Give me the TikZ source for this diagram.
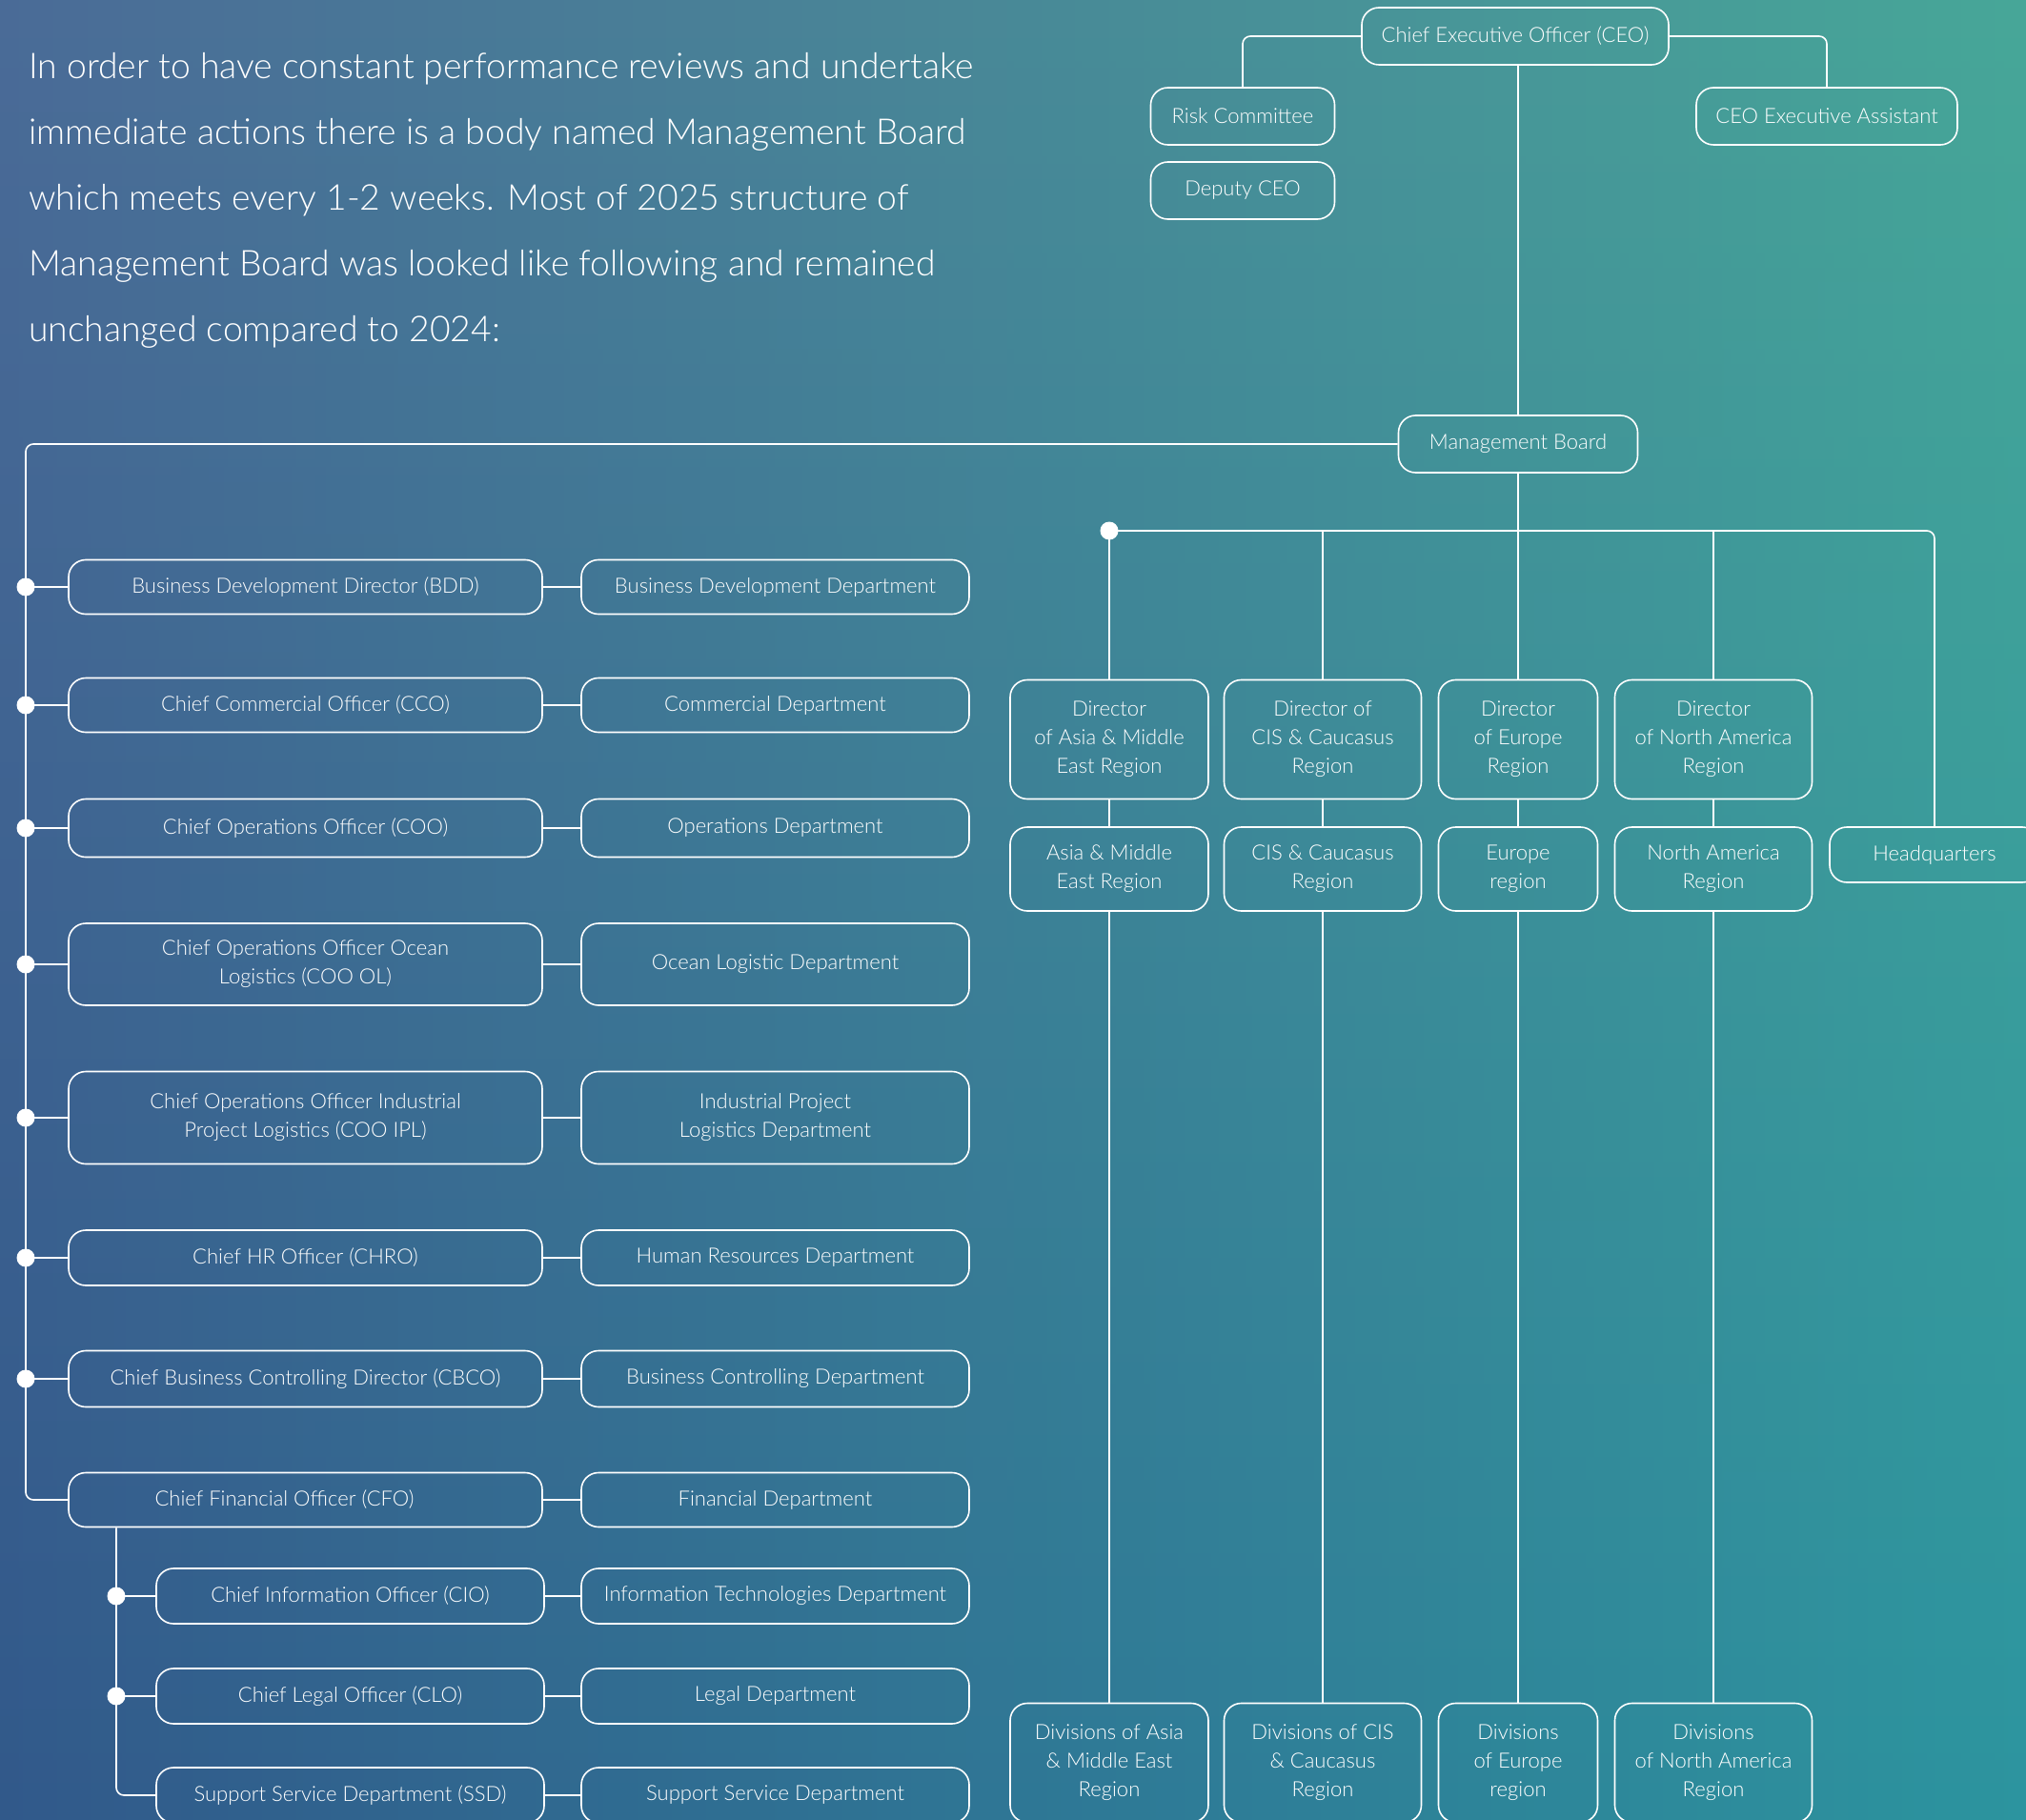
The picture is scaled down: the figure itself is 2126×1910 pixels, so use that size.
\documentclass[tikz,border=0pt]{standalone}
\usepackage{fontspec}
\setmainfont{Lato}[UprightFont=* Light]
\usepackage{tikz}
\usetikzlibrary{fadings}
\definecolor{bgtl}{HTML}{4B6B98}
\definecolor{bgtm}{HTML}{4F979A}
\definecolor{bgtr}{HTML}{48A898}
\definecolor{bgbl}{HTML}{31588A}
\definecolor{bgbm}{HTML}{367E95}
\definecolor{bgbr}{HTML}{2C95A0}
\tikzfading[name=fadedown,top color=transparent!0,bottom color=transparent!100]

\begin{document}
\begin{tikzpicture}[x=1pt,y=-1pt,
  bx/.style={draw=white,line width=1.6pt,rounded corners=18pt,text=white,font=\fontsize{22}{30}\selectfont,align=center,inner sep=0pt},
  lk/.style={white,line width=1.6pt,rounded corners=8pt},
  dot/.style={white}]
\useasboundingbox (0,0) rectangle (2126,1910);
\shade[left color=bgbl,middle color=bgbm,right color=bgbr] (-30,-30) rectangle (2156,1940);
\shade[left color=bgtl,middle color=bgtm,right color=bgtr,path fading=fadedown] (-30,-30) rectangle (2156,1940);
% ---------- intro text ----------
\node[text=white,font=\fontsize{37.3}{69}\selectfont,align=left,anchor=north west,inner sep=0pt] (intro) at (30,55)
  {In order to have constant performance reviews and undertake\\
   immediate actions there is a body named Management Board\\
   which meets every 1-2 weeks. Most of 2025 structure of\\
   Management Board was looked like following and remained\\
   unchanged compared to 2024:};
% ---------- top ----------
\node[bx,minimum width=322pt,minimum height=60pt] (ceo) at (1590,38) {Chief Executive Officer (CEO)};
\node[bx,minimum width=193pt,minimum height=60pt] (risk) at (1304,122) {Risk Committee};
\node[bx,minimum width=193pt,minimum height=60pt] (dep) at (1304,200) {Deputy CEO};
\node[bx,minimum width=274pt,minimum height=60pt] (asst) at (1917,122) {CEO Executive Assistant};
\node[bx,minimum width=251pt,minimum height=60pt] (mb) at (1593,466) {Management Board};
\draw[lk] (ceo.south -| mb.north) -- (mb.north);
\draw[lk] (ceo.west) -| (risk.north);
\draw[lk] (ceo.east) -| (asst.north);
% ---------- left column ----------
\foreach \n/\y/\h/\t/\d in {
  bdd/616/57/{Business Development Director (BDD)}/{Business Development Department},
  cco/740/57/{Chief Commercial Officer (CCO)}/{Commercial Department},
  coo/869/61/{Chief Operations Officer (COO)}/{Operations Department},
  cool/1012/86/{Chief Operations Officer Ocean\\Logistics (COO OL)}/{Ocean Logistic Department},
  coip/1173/97/{Chief Operations Officer Industrial\\Project Logistics (COO IPL)}/{Industrial Project\\Logistics Department},
  chro/1320/58/{Chief HR Officer (CHRO)}/{Human Resources Department},
  cbco/1447/59/{Chief Business Controlling Director (CBCO)}/{Business Controlling Department},
  cfo/1574/57/{Chief Financial Officer (CFO)\hspace*{44pt}}/{Financial Department}}{
  \node[bx,minimum width=497pt,minimum height=\h pt] (\n) at (320.5,\y) {\t};
  \node[bx,minimum width=407pt,minimum height=\h pt] (\n d) at (813.5,\y) {\d};
  \draw[lk] (\n.east) -- (\n d.west);
}
\foreach \n/\y/\t/\d in {
  cio/1675/{Chief Information Officer (CIO)}/{Information Technologies Department},
  clo/1780/{Chief Legal Officer (CLO)}/{Legal Department},
  ssd/1884/{Support Service Department (SSD)}/{Support Service Department}}{
  \node[bx,minimum width=407pt,minimum height=58pt] (\n) at (367.5,\y) {\t};
  \node[bx,minimum width=407pt,minimum height=58pt] (\n d) at (813.5,\y) {\d};
  \draw[lk] (\n.east) -- (\n d.west);
}
\coordinate (spine) at (27,1574);
\coordinate (subspine) at (122,1884);
\draw[lk] (mb.west) -| (spine) -- (cfo.west);
\foreach \n in {bdd,cco,coo,cool,coip,chro,cbco}{
  \draw[lk] (\n.west -| spine) -- (\n.west);
  \fill[dot] (\n.west -| spine) circle (9.5);
}
\draw[lk] (cfo.south -| subspine) |- (ssd.west);
\foreach \n in {cio,clo}{
  \draw[lk] (\n.west -| subspine) -- (\n.west);
  \fill[dot] (\n.west -| subspine) circle (9.5);
}
% ---------- regions ----------
\foreach \n/\x/\w/\a/\b/\c in {
  asia/1164/208/{Director\\of Asia \& Middle\\East Region}/{Asia \& Middle\\East Region}/{Divisions of Asia\\\& Middle East\\Region},
  cis/1388/207/{Director of\\CIS \& Caucasus\\Region}/{CIS \& Caucasus\\Region}/{Divisions of CIS\\\& Caucasus\\Region},
  eu/1593/167/{Director\\of Europe\\Region}/{Europe\\region}/{Divisions\\of Europe\\region},
  na/1798/207/{Director\\of North America\\Region}/{North America\\Region}/{Divisions\\of North America\\Region}}{
  \node[bx,minimum width=\w pt,minimum height=125pt] (\n) at (\x,776) {\a};
  \node[bx,minimum width=\w pt,minimum height=88pt] (\n r) at (\x,912) {\b};
  \node[bx,minimum width=\w pt,minimum height=125pt] (\n v) at (\x,1850) {\c};
  \draw[lk] (\n.south) -- (\n r.north);
  \draw[lk] (\n r.south) -- (\n v.north);
}
\node[bx,minimum width=220pt,minimum height=58pt] (hq) at (2030,897) {Headquarters};
\coordinate (bus) at (1164,557);
\draw[lk] (bus) -| (hq.north);
\draw[lk] (bus) -- (asia.north);
\draw[lk] (cis.north |- bus) -- (cis.north);
\draw[lk] (na.north |- bus) -- (na.north);
\draw[lk] (mb.south) -- (eu.north);
\fill[dot] (bus) circle (9.5);
\end{tikzpicture}
\end{document}
